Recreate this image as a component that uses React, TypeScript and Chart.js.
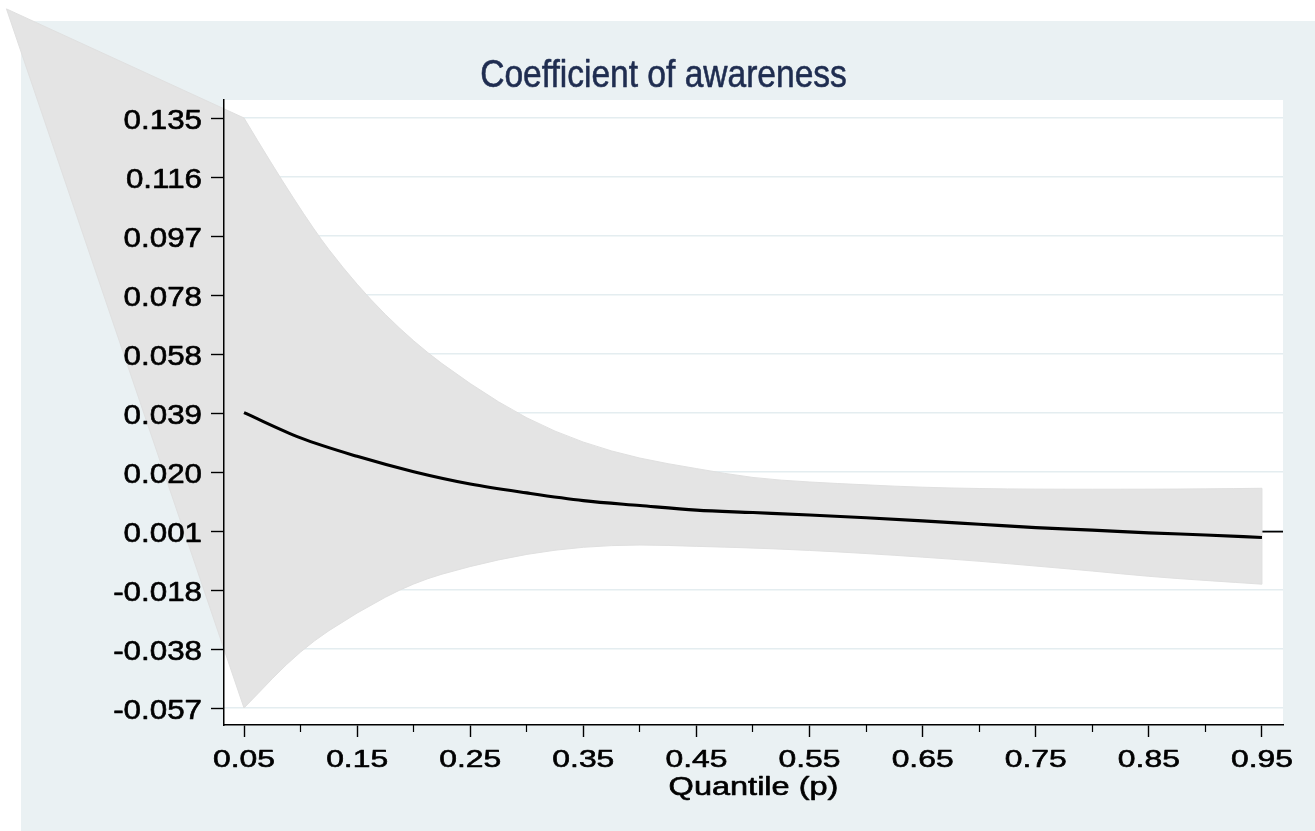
import React, { useEffect, useRef } from 'react';
import { Chart, registerables } from 'chart.js';

Chart.register(...registerables);

// ---------------- data ----------------
const quantiles = [0.05, 0.10, 0.15, 0.20, 0.25, 0.30, 0.35, 0.40, 0.45, 0.50, 0.55, 0.60, 0.65, 0.70, 0.75, 0.80, 0.85, 0.90, 0.95];
const coefAwareness = [0.0393, 0.0311, 0.0251, 0.0201, 0.0161, 0.0132, 0.0107, 0.0091, 0.0076, 0.0068, 0.0060, 0.0051, 0.0041, 0.0030, 0.0019, 0.0011, 0.0002, -0.0005, -0.0013];
const ciUpper = [0.1352, 0.1044, 0.0804, 0.0621, 0.0485, 0.0372, 0.0294, 0.0243, 0.0211, 0.0180, 0.0167, 0.0158, 0.0150, 0.0146, 0.0144, 0.0144, 0.0144, 0.0145, 0.0147];
const ciLower = [-0.0568, -0.0377, -0.0256, -0.0159, -0.0106, -0.0066, -0.0043, -0.0036, -0.0042, -0.0047, -0.0055, -0.0065, -0.0077, -0.0090, -0.0106, -0.0122, -0.0140, -0.0153, -0.0165];
const olsCoef = 0.0006;
// stray closing vertex of the confidence-band polygon (as rendered in the original)
const bandCornerX = -0.16;
const bandCornerY = 0.1707;

const xMajorTicks = [0.05, 0.15, 0.25, 0.35, 0.45, 0.55, 0.65, 0.75, 0.85, 0.95];
const xTickLabels = ['0.05', '0.15', '0.25', '0.35', '0.45', '0.55', '0.65', '0.75', '0.85', '0.95'];
const xMinorTicks = [0.10, 0.20, 0.30, 0.40, 0.50, 0.60, 0.70, 0.80, 0.90];
const yTickValues = [0.1352, 0.1160, 0.0968, 0.0776, 0.0584, 0.0392, 0.0200, 0.0008, -0.0184, -0.0376, -0.0568];
const yTickLabels = ['0.135', '0.116', '0.097', '0.078', '0.058', '0.039', '0.020', '0.001', '-0.018', '-0.038', '-0.057'];

const xMin = 0.0323;
const xMax = 0.9686;
const yMin = -0.06233;
const yMax = 0.14106;

const titleText = 'Coefficient of awareness';
const xTitleText = 'Quantile (p)';

// ---------------- style ----------------
const FONT = '"Liberation Sans", Arial, Helvetica, sans-serif';
const PANEL = '#EAF1F3';
const GRID = '#E4EDF0';
const BAND = '#E4E4E4';
const TITLE_COLOR = '#1F2D50';

function stretchedText(
  ctx: CanvasRenderingContext2D,
  text: string,
  x: number,
  y: number,
  size: number,
  sx: number,
  align: CanvasTextAlign,
  color: string
) {
  ctx.save();
  ctx.font = `${size}px ${FONT}`;
  ctx.fillStyle = color;
  ctx.strokeStyle = color;
  ctx.lineWidth = 0.6;
  ctx.lineJoin = 'round';
  ctx.textAlign = align;
  ctx.textBaseline = 'alphabetic';
  ctx.translate(x, y);
  ctx.scale(sx, 1);
  ctx.fillText(text, 0, 0);
  ctx.strokeText(text, 0, 0);
  ctx.restore();
}

type Pt = { x: number; y: number };

// smooth path through points using midpoint quadratic curves
function smoothTo(ctx: CanvasRenderingContext2D, pts: Pt[]) {
  ctx.lineTo(pts[0].x, pts[0].y);
  for (let i = 1; i < pts.length - 1; i++) {
    const mx = (pts[i].x + pts[i + 1].x) / 2;
    const my = (pts[i].y + pts[i + 1].y) / 2;
    ctx.quadraticCurveTo(pts[i].x, pts[i].y, mx, my);
  }
  const last = pts[pts.length - 1];
  ctx.lineTo(last.x, last.y);
}

const stataPlugin = {
  id: 'stataLook',
  beforeDraw(chart: any) {
    const { ctx, chartArea: a, width, height } = chart;
    ctx.save();
    ctx.fillStyle = '#ffffff';
    ctx.fillRect(0, 0, width, height);
    ctx.fillStyle = PANEL;
    ctx.fillRect(21, 21, width - 21, height - 21);
    ctx.fillStyle = '#ffffff';
    ctx.fillRect(a.left, a.top, a.right - a.left, a.bottom - a.top);
    ctx.restore();
  },
  beforeDatasetDraw(chart: any, args: any) {
    if (args.index !== 0) return;
    const { ctx } = chart;
    const xs = chart.scales.x;
    const ys = chart.scales.y;
    const upper: Pt[] = quantiles.map((q, i) => ({ x: xs.getPixelForValue(q), y: ys.getPixelForValue(ciUpper[i]) }));
    const lower: Pt[] = quantiles
      .map((q, i) => ({ x: xs.getPixelForValue(q), y: ys.getPixelForValue(ciLower[i]) }))
      .reverse();
    ctx.save();
    ctx.beginPath();
    ctx.moveTo(xs.getPixelForValue(bandCornerX), ys.getPixelForValue(bandCornerY));
    smoothTo(ctx, upper);
    smoothTo(ctx, lower);
    ctx.closePath();
    ctx.fillStyle = BAND;
    ctx.fill();
    ctx.lineWidth = 1;
    ctx.strokeStyle = '#E0E0E0';
    ctx.stroke();
    ctx.restore();
  },
  afterDraw(chart: any) {
    const { ctx, chartArea: a } = chart;
    const xs = chart.scales.x;
    const ys = chart.scales.y;
    stretchedText(ctx, titleText, 663.5, 86.7, 39, 0.86, 'center', TITLE_COLOR);
    yTickValues.forEach((v, i) => {
      stretchedText(ctx, yTickLabels[i], 202, ys.getPixelForValue(v) + 10.7, 27, 1.16, 'right', '#000000');
    });
    xMajorTicks.forEach((v, i) => {
      stretchedText(ctx, xTickLabels[i], xs.getPixelForValue(v), 767, 24.5, 1.3, 'center', '#000000');
    });
    stretchedText(ctx, xTitleText, (a.left + a.right) / 2, 794.5, 25, 1.3, 'center', '#000000');
  },
};

export default function App() {
  const canvasRef = useRef<HTMLCanvasElement | null>(null);

  useEffect(() => {
    document.body.style.margin = '0';
    document.body.style.overflow = 'hidden';
    const canvas = canvasRef.current;
    if (!canvas) return;

    const chart = new Chart(canvas, {
      type: 'line',
      data: {
        datasets: [
          {
            label: 'Quantile coefficient',
            data: quantiles.map((q, i) => ({ x: q, y: coefAwareness[i] })),
            borderColor: '#000000',
            borderWidth: 3.1,
            pointRadius: 0,
            fill: false,
            cubicInterpolationMode: 'monotone',
            xAxisID: 'x',
            yAxisID: 'y',
          },
          {
            label: 'OLS coefficient',
            data: [
              { x: xMin, y: olsCoef },
              { x: xMax, y: olsCoef },
            ],
            borderColor: '#000000',
            borderWidth: 1.9,
            pointRadius: 0,
            fill: false,
            xAxisID: 'x',
            yAxisID: 'y',
          },
        ],
      },
      options: {
        responsive: false,
        animation: false,
        devicePixelRatio: 1,
        events: [],
        layout: { padding: { left: 0, right: 32, top: 100, bottom: 0 } },
        plugins: {
          legend: { display: false },
          tooltip: { enabled: false },
          title: { display: false },
        },
        scales: {
          x: {
            type: 'linear',
            position: 'bottom',
            min: xMin,
            max: xMax,
            weight: 0,
            afterBuildTicks: (s: any) => {
              s.ticks = xMajorTicks.map((v) => ({ value: v }));
            },
            afterFit: (s: any) => {
              s.height = 106;
            },
            ticks: { display: false },
            grid: {
              display: true,
              drawOnChartArea: false,
              drawTicks: true,
              tickLength: 12,
              tickWidth: 1.4,
              tickColor: '#000000',
            },
            border: { display: true, color: '#000000', width: 1.5 },
          },
          xMinor: {
            type: 'linear',
            position: 'bottom',
            min: xMin,
            max: xMax,
            weight: -1,
            afterBuildTicks: (s: any) => {
              s.ticks = xMinorTicks.map((v) => ({ value: v }));
            },
            afterFit: (s: any) => {
              s.height = 0;
            },
            ticks: { display: false },
            grid: {
              display: true,
              drawOnChartArea: false,
              drawTicks: true,
              tickLength: 7,
              tickWidth: 1.2,
              tickColor: '#000000',
            },
            border: { display: false },
          },
          yGrid: {
            type: 'linear',
            position: 'left',
            min: yMin,
            max: yMax,
            afterBuildTicks: (s: any) => {
              s.ticks = yTickValues.map((v) => ({ value: v }));
            },
            afterFit: (s: any) => {
              s.width = 0;
            },
            ticks: { display: false },
            grid: {
              display: true,
              drawOnChartArea: true,
              drawTicks: false,
              color: GRID,
              lineWidth: 1.5,
            },
            border: { display: false },
          },
          y: {
            type: 'linear',
            position: 'left',
            min: yMin,
            max: yMax,
            afterBuildTicks: (s: any) => {
              s.ticks = yTickValues.map((v) => ({ value: v }));
            },
            afterFit: (s: any) => {
              s.width = 224;
            },
            ticks: { display: false, z: 1 },
            grid: {
              display: true,
              drawOnChartArea: false,
              drawTicks: true,
              tickLength: 13,
              tickWidth: 1.4,
              tickColor: '#000000',
              z: 1,
            },
            border: { display: true, color: '#000000', width: 1.5, z: 1 },
          },
        },
      },
      plugins: [stataPlugin],
    } as any);

    return () => {
      chart.destroy();
    };
  }, []);

  return (
    <canvas
      ref={canvasRef}
      width={1315}
      height={831}
      style={{ display: 'block', width: '1315px', height: '831px' }}
    />
  );
}
